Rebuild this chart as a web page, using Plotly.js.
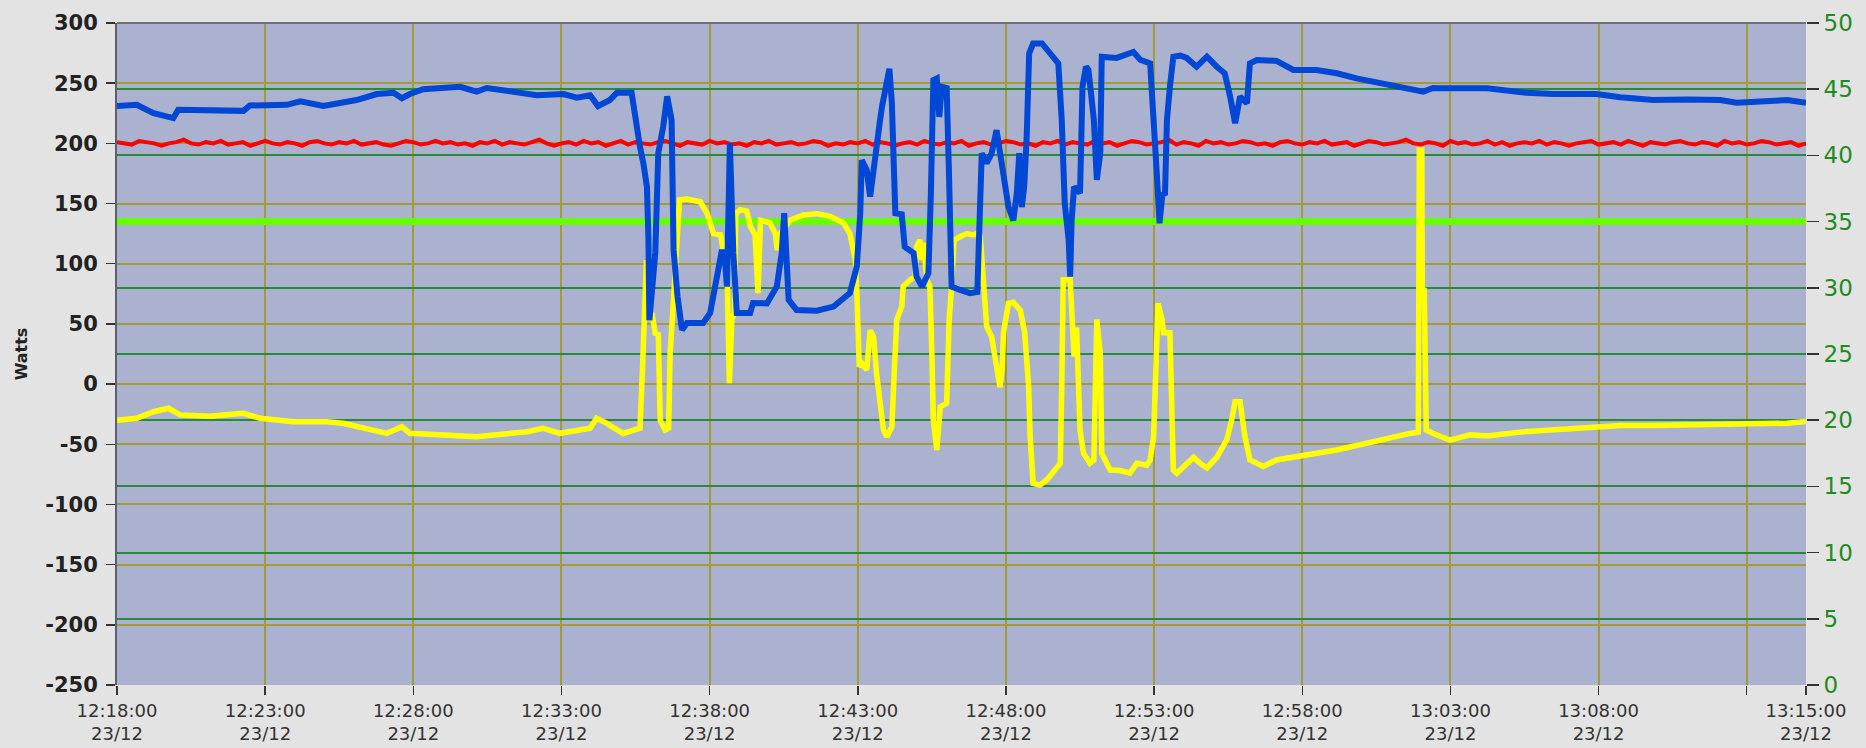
<!DOCTYPE html>
<html><head><meta charset="utf-8">
<script src="https://cdn.plot.ly/plotly-3.0.1.min.js"></script>
<style>html,body{margin:0;padding:0;background:#e3e3e3}#chart{width:1866px;height:748px}</style>
</head><body><div id="chart"></div>
<script>
// time axis: minutes after 12:18:00 on 23/12
const day = '2023-12-23';
const startClock = [12, 18, 0];

const xTickTimes = ['12:18:00','12:23:00','12:28:00','12:33:00','12:38:00','12:43:00','12:48:00','12:53:00','12:58:00','13:03:00','13:08:00','13:13:00','13:15:00'];
const xTickText = ['12:18:00<br>23/12','12:23:00<br>23/12','12:28:00<br>23/12','12:33:00<br>23/12','12:38:00<br>23/12','12:43:00<br>23/12','12:48:00<br>23/12','12:53:00<br>23/12','12:58:00<br>23/12','13:03:00<br>23/12','13:08:00<br>23/12','','13:15:00<br>23/12'];

const wattTicks = [-250,-200,-150,-100,-50,0,50,100,150,200,250,300];
const wattTickText = ['-250','-200','-150','-100','-50','0','50','100','150','200','250','300'];
const rightTicks = [0,5,10,15,20,25,30,35,40,45,50];
const rightTickText = ['0','5','10','15','20','25','30','35','40','45','50'];

// Blue series (Watts)
const blueT = [0,0.66,1.23,1.9,2.07,3.93,4.26,4.49,5.73,6.18,6.96,8.09,8.76,9.33,9.61,9.89,10.34,11.58,12.14,12.48,13.27,14.16,15.06,15.51,15.96,16.24,16.64,16.86,17.37,17.48,17.65,17.76,17.88,17.93,17.97,18.16,18.27,18.44,18.57,18.72,18.78,18.91,19.06,19.23,19.79,20.01,20.29,20.41,20.52,20.58,20.69,20.8,20.91,21.36,21.47,21.93,22.26,22.43,22.51,22.6,22.66,22.94,23.61,24.18,24.74,24.96,25.08,25.13,25.3,25.41,25.58,25.75,25.81,25.98,26.07,26.15,26.2,26.26,26.48,26.59,26.88,26.99,27.16,27.38,27.46,27.55,27.66,27.75,27.83,28.0,28.09,28.17,28.45,28.79,29.04,29.13,29.18,29.35,29.52,29.69,29.78,29.91,30.08,30.25,30.36,30.45,30.53,30.61,30.7,30.79,30.92,31.21,31.49,31.77,31.88,31.99,32.11,32.16,32.22,32.3,32.5,32.59,32.7,32.78,32.89,32.97,33.06,33.18,33.23,33.74,34.3,34.53,34.86,34.98,35.09,35.18,35.29,35.37,35.43,35.54,35.65,35.88,36.1,36.44,36.78,37.11,37.39,37.56,37.73,37.9,38.13,38.24,38.46,39.14,39.7,40.49,41.16,41.84,42.74,43.41,44.09,44.42,44.65,46.23,47.57,48.47,49.94,50.73,51.85,52.98,54.1,54.67,55.79,56.36,57.0];
const blueW = [231,232,225,221,228,228,227,231.5,232,235,231,236,241,242,237.5,241,245,247,243,246,243,240,241,238,240,231,236,242,242,222,197,183,164,122,53,109,192,214,239,219.5,111.5,72.7,45,50.8,50.8,59,95,111.5,103,81,200,109,59,59,67.4,67,81,109,142,109,70,61.6,61,64.4,75.7,97.6,142,186,178,155.7,192,219,230.5,255,262,233.5,175.4,142,141,114,109,89.3,81,92,158.7,252.6,254,222,247,246,169.6,81,78.2,75.5,76.5,136,191.8,183.5,191.8,211,194.5,166.9,147.4,136,158.7,191.8,147,164,205.6,274.8,283,283,275,266.5,219.4,150.2,119.8,89.3,136,164,158.7,247,263.7,261,238.8,219.4,169.6,191.8,272,271,276,269.5,266.5,225,178,133.6,158.6,157,219.4,247,272,273,271,263.7,272,263.7,258.2,238.8,216.7,238.8,233.3,266.5,269.3,268.5,261,261,258.2,254,250,245.8,243,246,245.8,245.8,242,241,241,238.3,236,236.5,236,233.8,236,236,233.8];

// Red series (Watts), sampled every quarter minute
const redStepMin = 0.25;
const redW = [201,200,199,202,201,200,198,200,201,203,
  200,199,201,200,202,199,200,201,198,200,
  202,200,199,201,200,198,201,202,200,199,
  201,200,202,199,200,201,199,198,200,202,
  201,199,200,202,200,201,199,200,198,201,
  200,202,199,201,200,199,201,203,200,198,
  200,201,199,202,200,201,198,200,202,199,
  201,200,199,201,202,200,198,201,200,199,
  202,200,201,199,200,198,201,200,202,199,
  200,201,199,200,202,201,198,200,199,201,
  200,202,199,201,200,198,200,201,199,202,
  200,199,201,200,202,198,200,201,199,200,
  202,201,199,200,198,201,200,202,199,201,
  200,199,202,200,201,198,200,202,201,199,
  200,201,203,199,201,200,198,202,200,201,
  199,200,202,201,199,200,198,201,202,200,
  199,201,200,202,199,200,201,198,200,202,
  201,199,200,201,203,200,199,201,200,198,
  202,200,201,199,200,202,199,201,198,200,
  201,200,202,199,201,200,198,200,201,202,
  199,200,201,199,202,200,198,201,200,199,
  201,202,200,199,201,200,198,202,200,201,
  199,200,202,201,199,200,201,198,200];

// Yellow series (right axis)
const yellowT = [0,0.66,1.23,1.74,2.14,3.15,4.26,4.83,5.95,7.07,7.64,8.54,9.1,9.61,9.89,11.02,12.14,12.71,13.83,14.39,14.95,15.96,16.19,16.53,16.64,17.09,17.65,17.74,17.79,17.86,17.93,18.05,18.16,18.27,18.33,18.5,18.61,18.67,18.76,18.87,18.98,19.23,19.68,19.91,20.13,20.36,20.52,20.6,20.67,20.75,20.83,20.89,21.03,21.25,21.39,21.53,21.64,21.72,22.04,22.21,22.29,22.38,22.71,23.16,23.61,24.06,24.51,24.74,24.91,24.96,25.05,25.13,25.3,25.41,25.53,25.64,25.75,25.87,25.98,26.15,26.23,26.32,26.48,26.54,26.76,26.93,26.99,27.1,27.16,27.21,27.33,27.44,27.5,27.55,27.66,27.78,28.0,28.09,28.17,28.25,28.45,28.68,28.9,29.02,29.13,29.24,29.35,29.52,29.69,29.8,29.86,29.91,30.08,30.25,30.48,30.64,30.76,30.81,30.92,31.15,31.38,31.66,31.83,31.88,31.94,32.16,32.22,32.3,32.39,32.5,32.61,32.84,32.97,33.06,33.18,33.23,33.51,33.85,34.19,34.41,34.75,34.86,34.98,35.09,35.14,35.26,35.32,35.54,35.6,35.65,35.77,35.99,36.33,36.55,36.78,37.11,37.45,37.62,37.73,37.9,38.07,38.24,38.69,39.14,39.7,40.49,41.16,41.84,42.74,43.64,43.92,43.95,44.03,44.05,44.11,44.18,44.42,44.98,45.66,46.23,47.35,48.47,49.6,50.73,51.85,52.98,54.1,55.23,56.36,57.0];
const yellowV = [20.0,20.14,20.64,20.9,20.4,20.3,20.52,20.14,19.89,19.89,19.77,19.26,19.01,19.51,19.01,18.88,18.75,18.88,19.13,19.39,19.01,19.39,20.14,19.77,19.6,19.0,19.4,23.8,28.3,32.1,27.6,28.1,26.56,26.5,20.0,19.26,19.4,25.05,28.57,32.85,36.63,36.7,36.5,35.6,34.1,34.0,32.1,30.1,22.8,27.6,28.1,35.6,35.9,35.8,34.6,34.0,29.6,35.1,34.9,34.1,32.85,34.1,35.1,35.5,35.6,35.4,34.9,34.1,32.1,29.8,24.04,24.3,23.8,26.8,26.3,23.5,21.28,19.26,18.75,19.5,23.8,27.6,28.57,30.1,30.6,30.85,33.1,33.6,32.1,33.4,30.6,30.1,25.05,20.0,17.75,21.0,21.28,27.6,30.1,33.6,33.86,34.1,34.0,34.1,33.86,30.1,27.06,26.3,23.8,22.5,23.8,26.6,28.83,28.9,28.3,26.6,22.5,18.75,15.23,15.1,15.5,16.24,16.74,22.5,30.6,30.6,28.57,24.8,27.0,19.26,17.5,16.74,17.0,27.6,25.05,17.5,16.24,16.2,16.0,16.74,16.6,17.0,18.75,27.6,28.83,27.6,26.6,26.6,21.28,16.24,16.0,16.5,17.2,16.74,16.4,17.2,18.5,20.0,21.4,21.4,18.75,17.0,16.5,17.0,17.25,17.5,17.75,18.1,18.6,19.0,19.1,40.4,40.4,29.8,29.8,19.26,19.0,18.5,18.9,18.8,19.1,19.26,19.4,19.6,19.6,19.65,19.6,19.7,19.77,19.9];

// Green constant (right axis)
const greenT = [0, 57];
const greenV = [35, 35];

function stamp(min) {
  let s = Math.round(min * 60) + startClock[0]*3600 + startClock[1]*60 + startClock[2];
  const hh = Math.floor(s/3600); s -= hh*3600;
  const mm = Math.floor(s/60); const ss = s - mm*60;
  const p = n => String(n).padStart(2,'0');
  return day + ' ' + p(hh) + ':' + p(mm) + ':' + p(ss);
}
const clock = t => day + ' ' + t;

const redT = redW.map((_, i) => i * redStepMin);

const traces = [
  {x: greenT.map(stamp), y: greenV, yaxis: 'y', mode: 'lines', line: {color: '#66ff00', width: 7}, name: 'green', hoverinfo: 'skip'},
  {x: yellowT.map(stamp), y: yellowV, yaxis: 'y', mode: 'lines', line: {color: '#ffff00', width: 5.5}, name: 'yellow'},
  {x: redT.map(stamp), y: redW, yaxis: 'y2', mode: 'lines', line: {color: '#ff0000', width: 4}, name: 'red'},
  {x: blueT.map(stamp), y: blueW, yaxis: 'y2', mode: 'lines', line: {color: '#0047d6', width: 6}, name: 'blue'}
];

const font = 'DejaVu Sans, Verdana, sans-serif';
const layout = {
  width: 1866, height: 748,
  margin: {l: 117, r: 60, t: 23, b: 63, pad: 0},
  paper_bgcolor: '#e3e3e3',
  plot_bgcolor: '#abb2cf',
  showlegend: false,
  font: {family: font, color: '#222'},
  xaxis: {
    type: 'date',
    range: [clock('12:18:00'), clock('13:15:00')],
    tickvals: xTickTimes.map(clock),
    ticktext: xTickText,
    tickangle: 0,
    ticks: 'outside', ticklen: 9, tickwidth: 1.5, tickcolor: '#333',
    tickfont: {size: 18, color: '#333', family: font},
    showgrid: true, gridcolor: '#a39b33', gridwidth: 2,
    showline: false, zeroline: false, fixedrange: true
  },
  yaxis: {
    side: 'right',
    range: [0, 50],
    tickvals: rightTicks, ticktext: rightTickText,
    ticks: 'outside', ticklen: 12, tickwidth: 1.5, tickcolor: '#333',
    tickfont: {size: 23, color: '#1e8c1e', family: font},
    showgrid: true, gridcolor: '#2a8a3a', gridwidth: 2,
    zeroline: false, showline: false, fixedrange: true
  },
  yaxis2: {
    side: 'left', overlaying: 'y',
    range: [-250, 300],
    tickvals: wattTicks, ticktext: wattTickText,
    ticks: 'outside', ticklen: 9, tickwidth: 1.5, tickcolor: '#333',
    ticklabelstandoff: 4,
    tickfont: {size: 21, color: '#222', family: font, weight: 'bold'},
    showgrid: true, gridcolor: '#a39b33', gridwidth: 2,
    zeroline: false, showline: true, linecolor: '#5a6070', linewidth: 2,
    title: {text: 'Watts', font: {size: 16, color: '#222', family: font, weight: 'bold'}, standoff: 14},
    fixedrange: true
  },
  shapes: [
    {type: 'line', xref: 'paper', yref: 'paper', x0: 0, x1: 1, y0: 1, y1: 1, line: {color: '#6b6f7a', width: 2}}
  ]
};

Plotly.newPlot('chart', traces, layout, {staticPlot: true, displayModeBar: false});
</script>
</body></html>
